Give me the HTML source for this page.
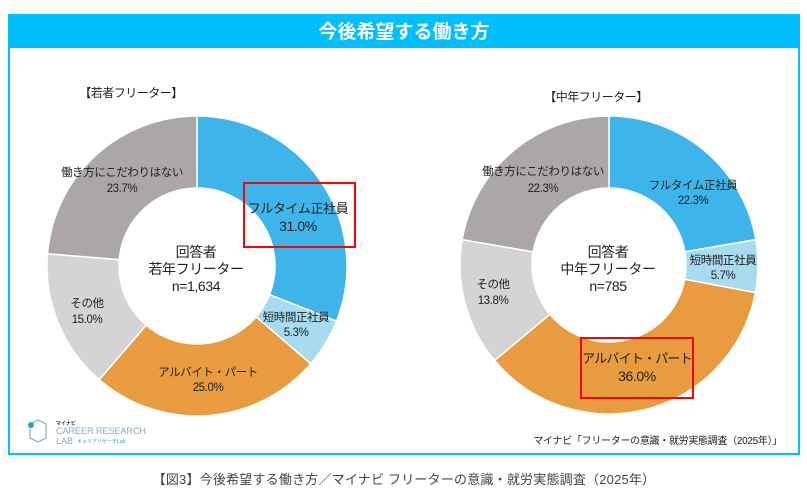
<!DOCTYPE html>
<html><head><meta charset="utf-8"><style>
body{margin:0;width:807px;height:494px;background:#fff;overflow:hidden;font-family:"Liberation Sans","Noto Sans CJK JP",sans-serif}
</style></head><body>
<svg width="807" height="494" viewBox="0 0 807 494" xmlns="http://www.w3.org/2000/svg" font-family="Liberation Sans, Noto Sans CJK JP, sans-serif">
<rect x="9" y="15" width="790" height="439" fill="#fff" stroke="#00bfff" stroke-width="2"/>
<rect x="8" y="14" width="792" height="34" fill="#00bfff"/>
<text x="404" y="38" text-anchor="middle" fill="#fff" font-size="19" font-weight="bold">今後希望する働き方</text>
<text x="131" y="97" text-anchor="middle" font-size="12" fill="#222" letter-spacing="-0.5">【若者フリーター】</text>
<text x="596" y="101" text-anchor="middle" font-size="12" fill="#222" letter-spacing="-0.5">【中年フリーター】</text>
<g id="d1"></g><g id="d2"></g>
<g font-size="11.5" fill="#222" text-anchor="middle" letter-spacing="-0.4">
<text x="122" y="176">働き方にこだわりはない</text><text x="122" y="192">23.7%</text>
<text x="298" y="213" font-size="13">フルタイム正社員</text><text x="298" y="231" font-size="14">31.0%</text>
<text x="296" y="321">短時間正社員</text><text x="296" y="336">5.3%</text>
<text x="208" y="376">アルバイト・パート</text><text x="208" y="391">25.0%</text>
<text x="87" y="307">その他</text><text x="87" y="323">15.0%</text>
<text x="196" y="257" font-size="14">回答者</text><text x="196" y="274" font-size="14">若年フリーター</text><text x="196" y="291" font-size="14">n=1,634</text>
<text x="543" y="175">働き方にこだわりはない</text><text x="543" y="192">22.3%</text>
<text x="693" y="189">フルタイム正社員</text><text x="693" y="204">22.3%</text>
<text x="723" y="264">短時間正社員</text><text x="723" y="279">5.7%</text>
<text x="493" y="288">その他</text><text x="493" y="304">13.8%</text>
<text x="637" y="363" font-size="13" letter-spacing="-0.8">アルバイト・パート</text><text x="637" y="381" font-size="14">36.0%</text>
<text x="608" y="257" font-size="14">回答者</text><text x="608" y="274" font-size="14">中年フリーター</text><text x="608" y="291" font-size="14">n=785</text>
</g>
<rect x="244" y="183" width="111" height="64" fill="none" stroke="#f00" stroke-width="2"/>
<rect x="581" y="338" width="112" height="60" fill="none" stroke="#f00" stroke-width="2"/>
<g transform="translate(26,420)"><path d="M4 4 L12 0 L20 4 L20 18 L12 22 L4 18 Z" fill="none" stroke="#8fa7c0" stroke-width="1.2"/><circle cx="5" cy="5" r="3" fill="#2a9fd8"/></g>
<text x="56" y="425" font-size="5" fill="#333" font-weight="bold">マイナビ</text>
<text x="56" y="434" font-size="9" fill="#8fa7c0">CAREER RESEARCH</text>
<text x="56" y="444" font-size="9" fill="#8fa7c0">LAB</text>
<text x="77" y="443" font-size="5" fill="#2a9fd8">キャリアリサーチLab</text>
<text x="782" y="444" text-anchor="end" font-size="10" fill="#222" letter-spacing="-0.3">マイナビ「フリーターの意識・就労実態調査（2025年）」</text>
<text x="404" y="484" text-anchor="middle" font-size="13" fill="#444" letter-spacing="0.2">【図3】今後希望する働き方／マイナビ フリーターの意識・就労実態調査（2025年）</text>
</svg>
<script>
function donut(id,cx,cy,R,r,vals){
 var cols=["#3db5ea","#a8daf0","#e99c3f","#d5d3d3","#aba7a6"];
 var g=document.getElementById(id),a=0,tot=vals.reduce((s,v)=>s+v,0),h="";
 vals.forEach(function(v,i){
  var a0=a/tot*2*Math.PI,a1=(a+v)/tot*2*Math.PI;a+=v;
  function p(rr,t){return (cx+rr*Math.sin(t)).toFixed(2)+" "+(cy-rr*Math.cos(t)).toFixed(2);}
  var lg=(a1-a0)>Math.PI?1:0;
  h+='<path d="M'+p(R,a0)+' A'+R+' '+R+' 0 '+lg+' 1 '+p(R,a1)+' L'+p(r,a1)+' A'+r+' '+r+' 0 '+lg+' 0 '+p(r,a0)+' Z" fill="'+cols[i]+'" stroke="#fff" stroke-width="1.5"/>';
 });
 g.innerHTML=h;
}
donut("d1",197,266,150,78,[31.0,5.3,25.0,15.0,23.7]);
donut("d2",609,265,149,77,[22.3,5.7,36.0,13.8,22.3]);
</script>
</body></html>
